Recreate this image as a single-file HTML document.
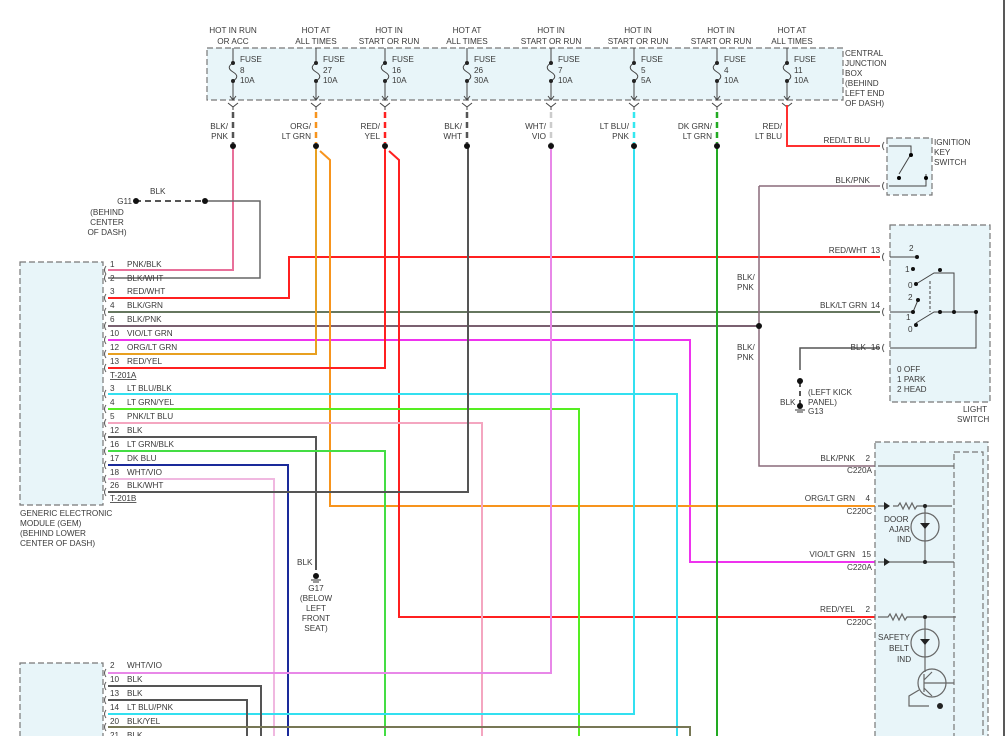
<!DOCTYPE html>
<html><head><meta charset="utf-8"><style>
html,body{margin:0;padding:0;background:#fff}
svg{display:block}
text{font-family:"Liberation Sans",sans-serif;font-size:8.2px;fill:#3a3a3a}
.bx{fill:#e8f5f9;stroke:#777;stroke-width:1.2;stroke-dasharray:6 3}
.w{fill:none;stroke-width:2}
</style></head><body>
<svg width="1008" height="736" viewBox="0 0 1008 736" xmlns="http://www.w3.org/2000/svg">
<rect class="bx" x="207" y="48" width="636" height="52"/>
<g text-anchor="middle">
<text x="233" y="33">HOT IN RUN</text><text x="233" y="44">OR ACC</text>
<text x="316" y="33">HOT AT</text><text x="316" y="44">ALL TIMES</text>
<text x="389" y="33">HOT IN</text><text x="389" y="44">START OR RUN</text>
<text x="467" y="33">HOT AT</text><text x="467" y="44">ALL TIMES</text>
<text x="551" y="33">HOT IN</text><text x="551" y="44">START OR RUN</text>
<text x="638" y="33">HOT IN</text><text x="638" y="44">START OR RUN</text>
<text x="721" y="33">HOT IN</text><text x="721" y="44">START OR RUN</text>
<text x="792" y="33">HOT AT</text><text x="792" y="44">ALL TIMES</text>
</g>
<text x="845" y="56">CENTRAL</text><text x="845" y="66">JUNCTION</text><text x="845" y="76">BOX</text><text x="845" y="86">(BEHIND</text><text x="845" y="96">LEFT END</text><text x="845" y="106">OF DASH)</text>
<g stroke="#444" stroke-width="1" fill="none">
<path d="M233 48V63M233 81V100 M230 96l3 4 3-4 M228 103l5 4 5-4M233 107v3 M233 63c-5 3-5 6 0 9s5 6 0 9"/>
<path d="M316 48V63M316 81V100 M313 96l3 4 3-4 M311 103l5 4 5-4M316 107v3 M316 63c-5 3-5 6 0 9s5 6 0 9"/>
<path d="M385 48V63M385 81V100 M382 96l3 4 3-4 M380 103l5 4 5-4M385 107v3 M385 63c-5 3-5 6 0 9s5 6 0 9"/>
<path d="M467 48V63M467 81V100 M464 96l3 4 3-4 M462 103l5 4 5-4M467 107v3 M467 63c-5 3-5 6 0 9s5 6 0 9"/>
<path d="M551 48V63M551 81V100 M548 96l3 4 3-4 M546 103l5 4 5-4M551 107v3 M551 63c-5 3-5 6 0 9s5 6 0 9"/>
<path d="M634 48V63M634 81V100 M631 96l3 4 3-4 M629 103l5 4 5-4M634 107v3 M634 63c-5 3-5 6 0 9s5 6 0 9"/>
<path d="M717 48V63M717 81V100 M714 96l3 4 3-4 M712 103l5 4 5-4M717 107v3 M717 63c-5 3-5 6 0 9s5 6 0 9"/>
<path d="M787 48V63M787 81V100 M784 96l3 4 3-4 M782 103l5 4 5-4M787 107v3 M787 63c-5 3-5 6 0 9s5 6 0 9"/>
</g>
<g fill="#222">
<circle cx="233" cy="63" r="2"/><circle cx="233" cy="81" r="2"/>
<circle cx="316" cy="63" r="2"/><circle cx="316" cy="81" r="2"/>
<circle cx="385" cy="63" r="2"/><circle cx="385" cy="81" r="2"/>
<circle cx="467" cy="63" r="2"/><circle cx="467" cy="81" r="2"/>
<circle cx="551" cy="63" r="2"/><circle cx="551" cy="81" r="2"/>
<circle cx="634" cy="63" r="2"/><circle cx="634" cy="81" r="2"/>
<circle cx="717" cy="63" r="2"/><circle cx="717" cy="81" r="2"/>
<circle cx="787" cy="63" r="2"/><circle cx="787" cy="81" r="2"/>
</g>
<text x="240" y="62">FUSE</text><text x="240" y="73">8</text><text x="240" y="83">10A</text>
<text x="323" y="62">FUSE</text><text x="323" y="73">27</text><text x="323" y="83">10A</text>
<text x="392" y="62">FUSE</text><text x="392" y="73">16</text><text x="392" y="83">10A</text>
<text x="474" y="62">FUSE</text><text x="474" y="73">26</text><text x="474" y="83">30A</text>
<text x="558" y="62">FUSE</text><text x="558" y="73">7</text><text x="558" y="83">10A</text>
<text x="641" y="62">FUSE</text><text x="641" y="73">5</text><text x="641" y="83">5A</text>
<text x="724" y="62">FUSE</text><text x="724" y="73">4</text><text x="724" y="83">10A</text>
<text x="794" y="62">FUSE</text><text x="794" y="73">11</text><text x="794" y="83">10A</text>
<g stroke-width="2.5" stroke-dasharray="6 4" fill="none">
<path d="M233 112V143" stroke="#555"/>
<path d="M316 112V143" stroke="#f7941d"/>
<path d="M385 112V143" stroke="#ff2020"/>
<path d="M467 112V143" stroke="#555"/>
<path d="M551 112V143" stroke="#ccc"/>
<path d="M634 112V143" stroke="#33e8f0"/>
<path d="M717 112V143" stroke="#22aa22"/>
</g>
<g text-anchor="end">
<text x="228" y="129">BLK/</text><text x="228" y="139">PNK</text>
<text x="311" y="129">ORG/</text><text x="311" y="139">LT GRN</text>
<text x="380" y="129">RED/</text><text x="380" y="139">YEL</text>
<text x="462" y="129">BLK/</text><text x="462" y="139">WHT</text>
<text x="546" y="129">WHT/</text><text x="546" y="139">VIO</text>
<text x="629" y="129">LT BLU/</text><text x="629" y="139">PNK</text>
<text x="712" y="129">DK GRN/</text><text x="712" y="139">LT GRN</text>
<text x="782" y="129">RED/</text><text x="782" y="139">LT BLU</text>
</g>
<rect class="bx" x="20" y="262" width="83" height="243"/>
<rect class="bx" x="20" y="663" width="83" height="80"/>
<text x="20" y="516">GENERIC ELECTRONIC</text><text x="20" y="526">MODULE (GEM)</text><text x="20" y="536">(BEHIND LOWER</text><text x="20" y="546">CENTER OF DASH)</text>
<g class="w">
<path d="M233 146V270H108" stroke="#e8709a"/>
<path d="M205 201H260V278H108" stroke="#666" stroke-width="1.5"/>
<path d="M108 298H289V257H880" stroke="#ff2020"/>
<path d="M108 312H880" stroke="#66775f"/>
<path d="M108 326H759" stroke="#7a6070"/>
<path d="M759 186V466H880" stroke="#8a6a7a" stroke-width="1.5"/>
<path d="M759 186H880" stroke="#8a6a7a" stroke-width="1.5"/>
<path d="M108 340H690V562H880" stroke="#ee33ee"/>
<path d="M108 354H316V146" stroke="#e8a020"/>
<path d="M320 151L330 160V506H880" stroke="#f7941d"/>
<path d="M108 368H385V146" stroke="#ff2020"/>
<path d="M389 151L399 160V617H880" stroke="#ff2020"/>
<path d="M108 394H677V736" stroke="#33e0f0"/>
<path d="M108 409H579V736" stroke="#55ee22"/>
<path d="M108 423H482V736" stroke="#f4a6c0"/>
<path d="M108 437H316V570" stroke="#555"/>
<path d="M108 451H385V736" stroke="#44dd44"/>
<path d="M108 465H288V736" stroke="#1a2a9a"/>
<path d="M108 479H274V736" stroke="#f0b8e0"/>
<path d="M108 492H468V146" stroke="#555"/>
<path d="M551 146V673H108" stroke="#e888e8"/>
<path d="M634 146V714H108" stroke="#33e0f0"/>
<path d="M717 146V736" stroke="#22aa22"/>
<path d="M787 105V146H880" stroke="#ff3030"/>
<path d="M108 686H261V736" stroke="#555"/>
<path d="M108 700H247V736" stroke="#555"/>
<path d="M108 727H690V736" stroke="#777755"/>
<path d="M880 348H800V370" stroke="#555" stroke-width="1.5"/>
</g>
<path d="M135 201H205" stroke="#555" stroke-width="2" stroke-dasharray="6 4"/>
<path d="M800 382V405" stroke="#555" stroke-width="2" stroke-dasharray="5 4"/>
<!-- connector marks -->
<g stroke="#555" fill="none" stroke-width="1">
<path d="M106 266q-3 4 0 8M106 274q-3 4 0 8M106 294q-3 4 0 8M106 308q-3 4 0 8M106 322q-3 4 0 8M106 336q-3 4 0 8M106 350q-3 4 0 8M106 364q-3 4 0 8M106 390q-3 4 0 8M106 405q-3 4 0 8M106 419q-3 4 0 8M106 433q-3 4 0 8M106 447q-3 4 0 8M106 461q-3 4 0 8M106 475q-3 4 0 8M106 488q-3 4 0 8M106 669q-3 4 0 8M106 682q-3 4 0 8M106 696q-3 4 0 8M106 710q-3 4 0 8M106 723q-3 4 0 8"/>
<path d="M884 142q-3 4 0 8M884 182q-3 4 0 8M884 253q-3 4 0 8M884 308q-3 4 0 8M884 344q-3 4 0 8M878 462q-3 4 0 8M878 502q-3 4 0 8M878 558q-3 4 0 8M878 613q-3 4 0 8"/>
</g>
<g fill="#111">
<circle cx="233" cy="146" r="3"/><circle cx="316" cy="146" r="3"/><circle cx="385" cy="146" r="3"/><circle cx="467" cy="146" r="3"/><circle cx="551" cy="146" r="3"/><circle cx="634" cy="146" r="3"/><circle cx="717" cy="146" r="3"/>
<circle cx="205" cy="201" r="3"/><circle cx="136" cy="201" r="3"/><circle cx="759" cy="326" r="3"/>
<circle cx="800" cy="381" r="3"/><circle cx="800" cy="406" r="3"/><circle cx="316" cy="576" r="3"/>
</g>
<path d="M311 580h10M313 582h6" stroke="#333"/>
<path d="M795 410h10M797 412h6" stroke="#333"/>
<text x="150" y="194">BLK</text>
<text x="132" y="204" text-anchor="end">G11</text>
<g text-anchor="middle"><text x="107" y="215">(BEHIND</text><text x="107" y="225">CENTER</text><text x="107" y="235">OF DASH)</text></g>
<text x="297" y="565">BLK</text>
<g text-anchor="middle"><text x="316" y="591">G17</text><text x="316" y="601">(BELOW</text><text x="316" y="611">LEFT</text><text x="316" y="621">FRONT</text><text x="316" y="631">SEAT)</text></g>
<text x="780" y="405">BLK</text><text x="808" y="395">(LEFT KICK</text><text x="808" y="405">PANEL)</text><text x="808" y="414">G13</text>
<text x="737" y="280">BLK/</text><text x="737" y="290">PNK</text>
<text x="737" y="350">BLK/</text><text x="737" y="360">PNK</text>
<g>
<text x="110" y="267">1</text><text x="127" y="267">PNK/BLK</text>
<text x="110" y="281">2</text><text x="127" y="281">BLK/WHT</text>
<text x="110" y="294">3</text><text x="127" y="294">RED/WHT</text>
<text x="110" y="308">4</text><text x="127" y="308">BLK/GRN</text>
<text x="110" y="322">6</text><text x="127" y="322">BLK/PNK</text>
<text x="110" y="336">10</text><text x="127" y="336">VIO/LT GRN</text>
<text x="110" y="350">12</text><text x="127" y="350">ORG/LT GRN</text>
<text x="110" y="364">13</text><text x="127" y="364">RED/YEL</text>
<text x="110" y="378" text-decoration="underline">T-201A</text>
<text x="110" y="391">3</text><text x="127" y="391">LT BLU/BLK</text>
<text x="110" y="405">4</text><text x="127" y="405">LT GRN/YEL</text>
<text x="110" y="419">5</text><text x="127" y="419">PNK/LT BLU</text>
<text x="110" y="433">12</text><text x="127" y="433">BLK</text>
<text x="110" y="447">16</text><text x="127" y="447">LT GRN/BLK</text>
<text x="110" y="461">17</text><text x="127" y="461">DK BLU</text>
<text x="110" y="475">18</text><text x="127" y="475">WHT/VIO</text>
<text x="110" y="488">26</text><text x="127" y="488">BLK/WHT</text>
<text x="110" y="501" text-decoration="underline">T-201B</text>
<text x="110" y="668">2</text><text x="127" y="668">WHT/VIO</text>
<text x="110" y="682">10</text><text x="127" y="682">BLK</text>
<text x="110" y="696">13</text><text x="127" y="696">BLK</text>
<text x="110" y="710">14</text><text x="127" y="710">LT BLU/PNK</text>
<text x="110" y="724">20</text><text x="127" y="724">BLK/YEL</text>
<text x="110" y="738">21</text><text x="127" y="738">BLK</text>
</g>
<rect class="bx" x="887" y="138" width="45" height="57"/>
<text x="934" y="145">IGNITION</text><text x="934" y="155">KEY</text><text x="934" y="165">SWITCH</text>
<path d="M889 146h22v8l-12 20 M889 186h37v-12" stroke="#444" fill="none"/>
<circle cx="911" cy="155" r="2"/><circle cx="899" cy="178" r="2"/><circle cx="926" cy="178" r="2"/>
<rect class="bx" x="890" y="225" width="100" height="177"/>
<text x="963" y="412">LIGHT</text><text x="957" y="422">SWITCH</text>
<text x="897" y="372">0 OFF</text><text x="897" y="382">1 PARK</text><text x="897" y="392">2 HEAD</text>
<g stroke="#444" fill="none">
<path d="M890 257h27 M890 312h23l5-12 M916 284l18-11h20v39 M916 323l18-11h42v36h-86"/>
<path d="M930 281v31" stroke-dasharray="3 2"/>
</g>
<g fill="#111"><circle cx="917" cy="257" r="2"/><circle cx="913" cy="269" r="2"/><circle cx="916" cy="284" r="2"/><circle cx="918" cy="300" r="2"/><circle cx="913" cy="312" r="2"/><circle cx="916" cy="325" r="2"/><circle cx="940" cy="270" r="2"/><circle cx="940" cy="312" r="2"/><circle cx="954" cy="312" r="2"/><circle cx="976" cy="312" r="2"/></g>
<text x="909" y="251">2</text><text x="905" y="272">1</text><text x="908" y="288">0</text><text x="908" y="300">2</text><text x="906" y="320">1</text><text x="908" y="332">0</text>
<rect class="bx" x="875" y="442" width="113" height="300"/>
<rect class="bx" x="954" y="452" width="29" height="290"/>
<g stroke="#666" fill="none" stroke-width="1.2">
<path d="M878 466h76 M878 506h6 M893 506h5l2-3 3 6 3-6 3 6 3-6 3 6 2-3h6h29 M925 506v56 M878 562h76"/>
<circle cx="925" cy="527" r="14"/>
<path d="M878 617h10l2-3 3 6 3-6 3 6 3-6 3 6 2-3h20h29 M925 617v55"/>
<circle cx="925" cy="643" r="14"/>
<circle cx="932" cy="683" r="14"/><path d="M924 674v18M924 683h22M924 680l8-8M924 688l8 8 M954 683h-8 M919 690l-10 6v10h20"/>
</g>
<g fill="#222"><path d="M884 502v8l6-4z"/><path d="M884 558v8l6-4z"/><circle cx="925" cy="506" r="2"/><circle cx="925" cy="562" r="2"/><circle cx="925" cy="617" r="2"/><circle cx="940" cy="706" r="3"/><path d="M920 523h10l-5 6z"/><path d="M920 639h10l-5 6z"/></g>
<text x="884" y="522">DOOR</text><text x="889" y="532">AJAR</text><text x="897" y="542">IND</text>
<text x="878" y="640">SAFETY</text><text x="889" y="651">BELT</text><text x="897" y="662">IND</text>
<g text-anchor="end">
<text x="870" y="143">RED/LT BLU</text><text x="870" y="183">BLK/PNK</text>
<text x="867" y="253">RED/WHT</text><text x="880" y="253">13</text>
<text x="867" y="308">BLK/LT GRN</text><text x="880" y="308">14</text>
<text x="866" y="350">BLK</text><text x="880" y="350">16</text>
<text x="855" y="461">BLK/PNK</text><text x="870" y="461">2</text><text x="872" y="473">C220A</text>
<text x="855" y="501">ORG/LT GRN</text><text x="870" y="501">4</text><text x="872" y="514">C220C</text>
<text x="855" y="557">VIO/LT GRN</text><text x="871" y="557">15</text><text x="872" y="570">C220A</text>
<text x="855" y="612">RED/YEL</text><text x="870" y="612">2</text><text x="872" y="625">C220C</text>
</g>
<line x1="1004" y1="0" x2="1004" y2="736" stroke="#222" stroke-width="1.5"/>
</svg>
</body></html>
